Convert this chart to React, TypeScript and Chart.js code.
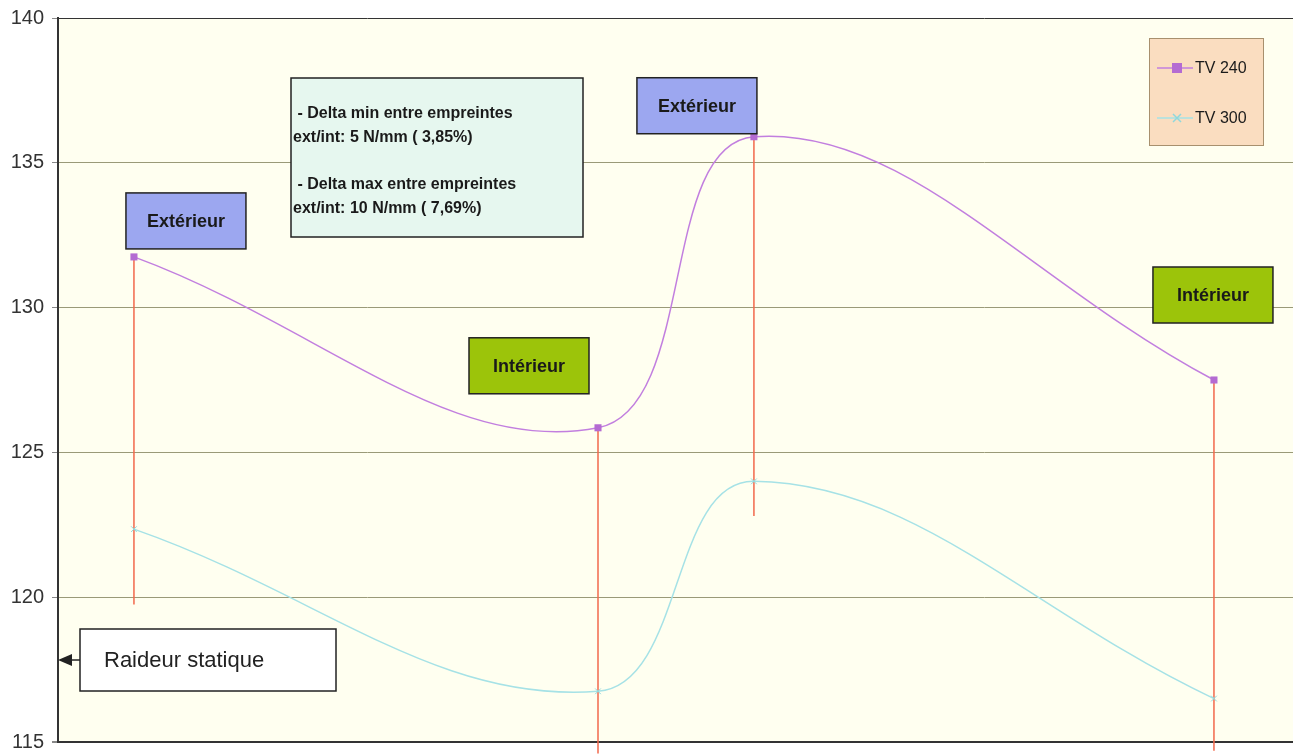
import React, { useEffect, useRef } from 'react';
import { Chart, registerables } from 'chart.js';

Chart.register(...registerables);

// ---- data ----
const xPositions = [1.23, 8.745, 11.27, 18.72];
const seriesNames = ['TV 240', 'TV 300'];
const tv240 = [131.75, 125.85, 135.9, 127.5];
const tv300 = [122.35, 116.75, 124.0, 116.5];
const dropLineBottoms = [119.75, 114.6, 122.8, 114.7];
const pointLabels = ['Extérieur', 'Intérieur', 'Extérieur', 'Intérieur'];
const yTicks = [115, 120, 125, 130, 135, 140];
const noteLines = [
  ' - Delta min entre empreintes',
  'ext/int: 5 N/mm ( 3,85%)',
  ' - Delta max entre empreintes',
  'ext/int: 10 N/mm ( 7,69%)',
];
const axisNote = 'Raideur statique';

// ---- styles ----
const FONT = '"Liberation Sans", Arial, sans-serif';
const C240 = '#C27FDF';
const C240M = '#B46BD2';
const C300 = '#A6E2E6';
const CDROP = '#F2694C';
const labelOffsets = [
  { dx: 52, dy: -36 },
  { dx: -69, dy: -62 },
  { dx: -57, dy: -31 },
  { dx: -1, dy: -85 },
];
const labelFill: Record<string, string> = { 'Extérieur': '#9CA7F0', 'Intérieur': '#9CC40A' };

const overlayPlugin = {
  id: 'overlay',
  beforeDraw(chart: any) {
    const { ctx, chartArea: a } = chart;
    ctx.save();
    ctx.fillStyle = '#FFFFF0';
    ctx.fillRect(a.left, a.top, a.right - a.left, a.bottom - a.top);
    ctx.restore();
  },
  afterDraw(chart: any) {
    const { ctx, chartArea: a } = chart;
    const xs = chart.scales.x;
    const ys = chart.scales.y;
    ctx.save();
    // point labels
    ctx.font = `bold 18px ${FONT}`;
    ctx.textAlign = 'center';
    ctx.textBaseline = 'middle';
    pointLabels.forEach((t, i) => {
      const cx = xs.getPixelForValue(xPositions[i]) + labelOffsets[i].dx;
      const cy = ys.getPixelForValue(tv240[i]) + labelOffsets[i].dy;
      const w = 120, h = 56;
      ctx.fillStyle = labelFill[t];
      ctx.fillRect(cx - w / 2, cy - h / 2, w, h);
      ctx.strokeStyle = '#222';
      ctx.lineWidth = 1.5;
      ctx.strokeRect(cx - w / 2, cy - h / 2, w, h);
      ctx.fillStyle = '#1a1a1a';
      ctx.fillText(t, cx, cy + 1);
    });

    // note box
    const nx = a.left + 233, ny = a.top + 60, nw = 292, nh = 159;
    ctx.fillStyle = '#E6F7EF';
    ctx.fillRect(nx, ny, nw, nh);
    ctx.strokeStyle = '#222';
    ctx.lineWidth = 1.5;
    ctx.strokeRect(nx, ny, nw, nh);
    ctx.fillStyle = '#1a1a1a';
    ctx.font = `bold 16px ${FONT}`;
    ctx.textAlign = 'left';
    const lineYs = [36, 60, 107, 131];
    noteLines.forEach((l, i) => ctx.fillText(l, nx + 2, ny + lineYs[i]));

    // raideur statique box with arrow
    const rx = 80, ry = 629, rw = 256, rh = 62;
    ctx.fillStyle = '#FFFFFF';
    ctx.fillRect(rx, ry, rw, rh);
    ctx.strokeStyle = '#222';
    ctx.lineWidth = 1.5;
    ctx.strokeRect(rx, ry, rw, rh);
    ctx.fillStyle = '#222';
    ctx.font = `22px ${FONT}`;
    ctx.fillText(axisNote, rx + 24, ry + rh / 2 + 1);
    const ay = ry + rh / 2;
    ctx.beginPath();
    ctx.moveTo(rx, ay);
    ctx.lineTo(a.left + 10, ay);
    ctx.stroke();
    ctx.beginPath();
    ctx.moveTo(a.left, ay);
    ctx.lineTo(a.left + 14, ay - 6);
    ctx.lineTo(a.left + 14, ay + 6);
    ctx.closePath();
    ctx.fill();

    // legend
    const lx = 1149, ly = 38, lw = 114, lh = 107;
    ctx.fillStyle = '#FADDC0';
    ctx.fillRect(lx, ly, lw, lh);
    ctx.strokeStyle = '#A8906E';
    ctx.lineWidth = 1;
    ctx.strokeRect(lx + 0.5, ly + 0.5, lw, lh);
    const items = [
      { name: seriesNames[0], color: C240, marker: 'rect', y: 68 },
      { name: seriesNames[1], color: C300, marker: 'x', y: 118 },
    ];
    items.forEach((it) => {
      ctx.strokeStyle = it.color;
      ctx.lineWidth = 1.5;
      ctx.beginPath();
      ctx.moveTo(lx + 8, it.y);
      ctx.lineTo(lx + 44, it.y);
      ctx.stroke();
      const mx = lx + 28;
      if (it.marker === 'rect') {
        ctx.fillStyle = C240M;
        ctx.fillRect(mx - 5, it.y - 5, 10, 10);
      } else {
        ctx.strokeStyle = '#8FD8DC';
        ctx.beginPath();
        ctx.moveTo(mx - 4, it.y - 4);
        ctx.lineTo(mx + 4, it.y + 4);
        ctx.moveTo(mx + 4, it.y - 4);
        ctx.lineTo(mx - 4, it.y + 4);
        ctx.stroke();
      }
      ctx.fillStyle = '#1a1a1a';
      ctx.font = `16px ${FONT}`;
      ctx.textAlign = 'left';
      ctx.textBaseline = 'middle';
      ctx.fillText(it.name, lx + 46, it.y + 1);
    });
    ctx.restore();
  },
};

export default function App() {
  const ref = useRef<HTMLCanvasElement | null>(null);
  useEffect(() => {
    if (!ref.current) return;
    const dropSets = xPositions.map((x, i) => ({
      label: 'drop' + i,
      data: [
        { x, y: tv240[i] },
        { x, y: dropLineBottoms[i] },
      ],
      borderColor: CDROP,
      borderWidth: 1.5,
      pointRadius: 0,
      tension: 0,
      clip: false as any,
      order: 3,
    }));
    const chart = new Chart(ref.current, {
      type: 'line',
      data: {
        datasets: [
          ...dropSets,
          {
            label: seriesNames[0],
            data: xPositions.map((x, i) => ({ x, y: tv240[i] })),
            borderColor: C240,
            borderWidth: 1.5,
            backgroundColor: C240M,
            pointStyle: 'rect',
            pointRadius: 5,
            pointBorderWidth: 0,
            tension: 0.4,
            order: 1,
          },
          {
            label: seriesNames[1],
            data: xPositions.map((x, i) => ({ x, y: tv300[i] })),
            borderColor: C300,
            borderWidth: 1.5,
            pointStyle: 'crossRot',
            pointRadius: 4,
            pointBorderColor: '#8FD8DC',
            pointBorderWidth: 1,
            tension: 0.4,
            order: 2,
          },
        ],
      },
      options: {
        responsive: false,
        animation: false,
        devicePixelRatio: 1,
        layout: { autoPadding: false, padding: { top: 18, left: 0, right: 0, bottom: 12 } },
        plugins: { legend: { display: false }, tooltip: { enabled: false } },
        scales: {
          x: { type: 'linear', min: 0, max: 20, display: false },
          y: {
            min: yTicks[0],
            max: yTicks[yTicks.length - 1],
            afterFit: (s: any) => { s.width = 58; s.paddingTop = 0; s.paddingBottom = 0; },
            afterBuildTicks: (s: any) => { s.ticks = yTicks.map((v) => ({ value: v })); },
            ticks: {
              font: { family: FONT, size: 20 },
              color: '#333',
              padding: 8,
            },
            grid: {
              color: (c: any) => (c.tick && (c.tick.value === 115 || c.tick.value === 140) ? '#333' : '#9A9A78'),
              lineWidth: (c: any) => (c.tick && c.tick.value === 115 ? 2 : 1),
              tickLength: 6,
              tickColor: '#888',
            },
            border: { display: true, color: '#333', width: 2 },
          },
        },
      },
      plugins: [overlayPlugin],
    } as any);
    return () => chart.destroy();
  }, []);
  return (
    <div style={{ position: 'absolute', left: 0, top: 0, width: 1293, height: 754 }}>
      <canvas ref={ref} width={1293} height={754} style={{ display: 'block' }} />
    </div>
  );
}
